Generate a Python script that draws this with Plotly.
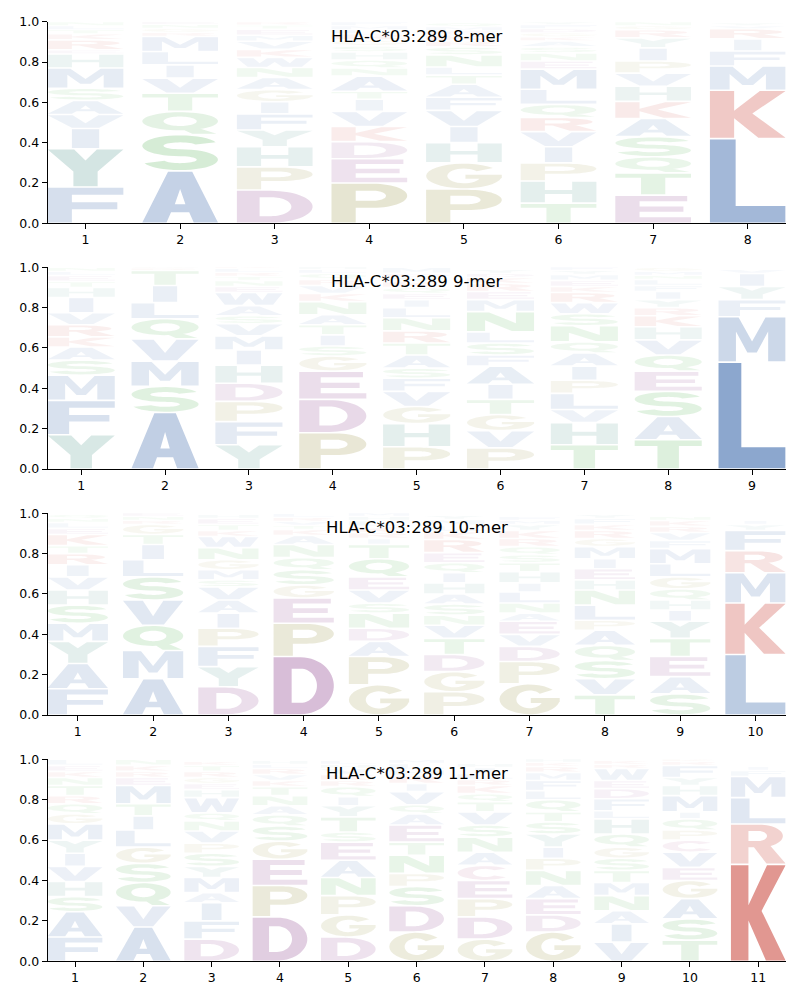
import numpy as np
import plotly.graph_objects as go

TITLE = "HLA-C*03:289"

# ---------------- data: letters (bottom -> top) and their heights per position
mer8_letters = ["FYIVASMHERKTLN", "ASQTVILMRGNE", "DPHYFIGANWKVMETR", "PEDKVITANQHSGRLMF",
                "PGHIVFATLNSRKEMQ", "THPIVRQLMENSAKGDFY", "ETQSAKHVPIYRGNL", "LKMFIRVY"]
mer8_heights = [[.18, .19, .10, .07, .07, .06, .10, .07, .02, .05, .03, .02, .02, .02],
                [.26, .18, .115, .09, .075, .066, .066, .075, .02, .02, .02, .013],
                [.165, .115, .10, .083, .08, .06, .06, .06, .05, .05, .04, .04, .03, .03, .02, .017],
                [.20, .12, .085, .075, .075, .06, .04, .075, .04, .04, .04, .03, .03, .03, .02, .02, .02],
                [.17, .13, .10, .08, .08, .065, .065, .045, .04, .06, .04, .03, .03, .02, .02, .02],
                [.10, .11, .09, .08, .075, .07, .065, .075, .10, .04, .04, .03, .03, .02, .02, .02, .02, .015],
                [.14, .11, .08, .10, .09, .085, .075, .065, .06, .065, .05, .04, .02, .02, .02],
                [.42, .24, .12, .075, .06, .05, .015, .015]]

mer9_letters = ["YFMSAKRVIHTELN", "ASMVQLITRG", "YFPDHIMVSAWENTRLK", "PDEGSITANKVRQLHM",
                "PHGVFSATRNLIEQKYDM", "PVGTIAFSLNMERKDY", "THVLPIAQNSWRKEMYF",
                "TASEQVHKRYIFLNMG", "LMFYIV"]
mer9_heights = [[.17, .17, .125, .075, .065, .05, .06, .06, .075, .05, .03, .03, .02, .02],
                [.28, .13, .125, .11, .10, .08, .085, .075, .01, .01],
                [.12, .115, .10, .09, .09, .075, .07, .06, .04, .05, .065, .03, .03, .02, .02, .02, .015],
                [.18, .165, .14, .075, .05, .055, .05, .05, .065, .04, .04, .03, .03, .02, .02, .02],
                [.11, .115, .085, .075, .065, .05, .065, .06, .06, .065, .05, .04, .03, .03, .03, .02, .02, .03],
                [.105, .085, .08, .075, .075, .09, .055, .06, .055, .10, .06, .04, .04, .03, .02, .02],
                [.12, .11, .065, .08, .065, .07, .065, .055, .08, .06, .055, .05, .03, .03, .03, .02, .02],
                [.145, .115, .125, .10, .08, .075, .065, .055, .04, .04, .04, .03, .03, .02, .02, .02],
                [.53, .225, .085, .065, .065, .02]]

mer10_letters = ["FAYMSHVIRTKELNQ", "AMQVSLITGRNE", "DYFPIAVSMGNWKTEH", "DPEGSQNAKTVRLH",
                 "GPADNSVEQTIRKLHM", "PGDTVNSAHIQERKLMY", "GPDVEANLIHTSQRKYMF",
                 "TVSQAPLNHEIMGRKFY", "SAETYIHQGLMFVRKN", "LKMRFYI"]
mer10_heights = [[.13, .125, .11, .09, .09, .075, .065, .06, .055, .04, .055, .03, .03, .02, .02],
                 [.18, .14, .125, .125, .115, .085, .075, .05, .05, .02, .02, .02],
                 [.14, .10, .10, .09, .075, .065, .065, .035, .05, .05, .06, .055, .03, .03, .03, .02],
                 [.29, .165, .125, .065, .075, .06, .065, .045, .03, .02, .02, .02, .02, .02],
                 [.15, .14, .075, .065, .075, .05, .065, .065, .09, .07, .03, .03, .03, .03, .02, .02],
                 [.115, .10, .085, .08, .065, .05, .055, .05, .055, .05, .05, .05, .065, .04, .03, .03, .02],
                 [.155, .11, .075, .06, .065, .04, .05, .055, .045, .055, .045, .04, .04, .04, .04, .03, .02, .02],
                 [.10, .08, .09, .075, .075, .05, .075, .075, .05, .055, .05, .06, .04, .04, .03, .03, .02],
                 [.105, .085, .10, .09, .085, .055, .05, .055, .06, .065, .075, .04, .04, .03, .03, .02],
                 [.30, .255, .15, .11, .10, .03, .02]]

mer11_letters = ["FASHVIYMGQRTNKEL", "AVQSGLITMERKN", "DFIAMYSPVNQWHEGRTK", "DPEGSQANTKVRLH",
                 "DGPNAESTYIQRKVHL", "GDSPNTEAQVIRHLM", "GDPECANSVTQKRLIH",
                 "GDEANPIYSTQLFMRKH", "VIANMTSGQHLFDEWRK", "TSAGEVCPQIMHYFRK", "KRLMFI"]
mer11_heights = [[.12, .125, .075, .075, .075, .065, .065, .08, .05, .05, .04, .05, .04, .03, .03, .03],
                 [.17, .105, .115, .095, .08, .085, .07, .06, .09, .04, .03, .03, .03],
                 [.11, .09, .09, .05, .075, .055, .065, .05, .06, .05, .04, .075, .04, .03, .03, .03, .03, .02],
                 [.22, .155, .13, .09, .075, .055, .045, .05, .045, .03, .03, .03, .02, .02],
                 [.12, .11, .095, .09, .085, .09, .05, .075, .055, .045, .05, .03, .03, .03, .02, .02],
                 [.145, .13, .095, .065, .09, .065, .085, .055, .045, .065, .04, .04, .03, .03, .02],
                 [.11, .11, .09, .09, .075, .065, .075, .06, .065, .05, .04, .04, .03, .03, .03, .02],
                 [.145, .085, .08, .065, .075, .06, .055, .065, .06, .05, .06, .045, .05, .04, .03, .02, .02],
                 [.095, .09, .065, .075, .065, .06, .06, .055, .065, .075, .04, .06, .05, .04, .06, .02, .02],
                 [.105, .105, .10, .09, .065, .075, .06, .05, .055, .035, .08, .05, .04, .06, .02, .01],
                 [.48, .20, .13, .105, .03, .02]]

panels = [(8, mer8_letters, mer8_heights), (9, mer9_letters, mer9_heights),
          (10, mer10_letters, mer10_heights), (11, mer11_letters, mer11_heights)]

# ---------------- colours per residue group
BLUE, TEAL, RED, PURPLE, OLIVE, GREEN, PINK = ((80, 120, 180), (80, 150, 140), (205, 80, 70),
                                              (150, 80, 150), (160, 155, 80), (80, 175, 80), (180, 90, 140))
BASE = {}
for aa in "ALMFVIW":
    BASE[aa] = BLUE
for aa in "YH":
    BASE[aa] = TEAL
for aa in "KR":
    BASE[aa] = RED
for aa in "DE":
    BASE[aa] = PURPLE
for aa in "PG":
    BASE[aa] = OLIVE
for aa in "STNQ":
    BASE[aa] = GREEN
BASE["C"] = PINK


# ---------------- glyph outlines in a unit box
def arc(cx, cy, rx, ry, a0, a1, n=30):
    t = np.radians(np.linspace(a0, a1, n))
    return [(cx + rx * np.cos(v), cy + ry * np.sin(v)) for v in t]


def ellipse(cx, cy, rx, ry, n=56):
    return arc(cx, cy, rx, ry, 0, 360, n)[:-1]


GLYPHS = {
    "A": [([(0, 0), (0.34, 1), (0.66, 1), (1, 0), (0.68, 0), (0.62, 0.2), (0.38, 0.2), (0.32, 0)], False),
          ([(0.43, 0.36), (0.57, 0.36), (0.5, 0.66)], True)],
    "C": [(arc(.5, .5, .5, .5, 40, 320) + arc(.5, .5, .22, .3, 320, 40), False)],
    "D": [([(0, 0), (0, 1), (0.45, 1)] + arc(0.45, 0.5, 0.55, 0.5, 90, -90) + [(0.45, 0)], False),
          ([(0.3, 0.2), (0.3, 0.8), (0.45, 0.8)] + arc(0.45, 0.5, 0.27, 0.3, 90, -90) + [(0.45, 0.2)], True)],
    "E": [([(0, 0), (0, 1), (0.95, 1), (0.95, 0.8), (0.32, 0.8), (0.32, 0.6), (0.9, 0.6), (0.9, 0.4),
            (0.32, 0.4), (0.32, 0.2), (1, 0.2), (1, 0)], False)],
    "F": [([(0, 0), (0, 1), (1, 1), (1, 0.8), (0.32, 0.8), (0.32, 0.58), (0.92, 0.58), (0.92, 0.38),
            (0.32, 0.38), (0.32, 0)], False)],
    "G": [(arc(.5, .5, .5, .5, 40, 350) + [(1.0, 0.41), (1.0, 0.55), (0.52, 0.55), (0.52, 0.38), (0.72, 0.38)]
           + arc(.5, .5, .22, .3, -20, -320), False)],
    "H": [([(0, 0), (0, 1), (0.32, 1), (0.32, 0.6), (0.68, 0.6), (0.68, 1), (1, 1), (1, 0), (0.68, 0),
            (0.68, 0.4), (0.32, 0.4), (0.32, 0)], False)],
    "I": [([(0.32, 0), (0.68, 0), (0.68, 1), (0.32, 1)], False)],
    "K": [([(0, 0), (0, 1), (0.32, 1), (0.32, 0.58), (0.66, 1), (1, 1), (0.56, 0.52), (1, 0), (0.64, 0),
            (0.32, 0.42), (0.32, 0)], False)],
    "L": [([(0, 0), (0, 1), (0.34, 1), (0.34, 0.2), (1, 0.2), (1, 0)], False)],
    "M": [([(0, 0), (0, 1), (0.3, 1), (0.5, 0.45), (0.7, 1), (1, 1), (1, 0), (0.74, 0), (0.74, 0.68),
            (0.57, 0.2), (0.43, 0.2), (0.26, 0.68), (0.26, 0)], False)],
    "N": [([(0, 0), (0, 1), (0.33, 1), (0.73, 0.42), (0.73, 1), (1, 1), (1, 0), (0.67, 0), (0.27, 0.58),
            (0.27, 0)], False)],
    "P": [([(0, 0), (0, 1), (0.55, 1)] + arc(0.55, 0.69, 0.45, 0.31, 90, -90) + [(0.32, 0.38), (0.32, 0)], False),
          ([(0.32, 0.56), (0.32, 0.82), (0.55, 0.82)] + arc(0.55, 0.69, 0.17, 0.13, 90, -90), True)],
    "Q": [(ellipse(0.5, 0.58, 0.5, 0.42), False), (ellipse(0.5, 0.58, 0.22, 0.22), True),
          ([(0.52, 0.22), (0.78, 0.22), (0.98, 0.0), (0.66, 0.0)], False)],
    "R": [([(0, 0), (0, 1), (0.52, 1)] + arc(0.52, 0.71, 0.43, 0.29, 90, -90) + [(0.32, 0.42), (0.32, 0)], False),
          ([(0.32, 0.58), (0.32, 0.84), (0.5, 0.84)] + arc(0.5, 0.71, 0.16, 0.13, 90, -90), True),
          ([(0.4, 0.46), (0.72, 0.46), (1.0, 0), (0.65, 0)], False)],
    "S": [(arc(0.5, 0.7, 0.22, 0.1, 20, 270) + arc(0.5, 0.3, 0.5, 0.3, 90, -160)
           + arc(0.5, 0.3, 0.22, 0.1, -160, 90) + arc(0.5, 0.7, 0.5, 0.3, 270, 20), False)],
    "T": [([(0, 1), (1, 1), (1, 0.8), (0.66, 0.8), (0.66, 0), (0.34, 0), (0.34, 0.8), (0, 0.8)], False)],
    "V": [([(0, 1), (0.33, 1), (0.5, 0.35), (0.67, 1), (1, 1), (0.68, 0), (0.32, 0)], False)],
    "W": [([(0, 1), (0.22, 1), (0.3, 0.4), (0.4, 1), (0.6, 1), (0.7, 0.4), (0.78, 1), (1, 1), (0.86, 0),
            (0.6, 0), (0.5, 0.55), (0.4, 0), (0.14, 0)], False)],
    "Y": [([(0, 1), (0.35, 1), (0.5, 0.7), (0.65, 1), (1, 1), (0.66, 0.4), (0.66, 0), (0.34, 0),
            (0.34, 0.4)], False)],
}


def oriented(pts, hole):
    p = np.array(pts, dtype=float)
    area = 0.5 * np.sum(p[:, 0] * np.roll(p[:, 1], -1) - np.roll(p[:, 0], -1) * p[:, 1])
    if (area > 0) == hole:
        p = p[::-1]
    return p


def glyph_path(letter, x0, x1, y0, y1):
    parts = []
    for pts, hole in GLYPHS[letter]:
        p = oriented(pts, hole)
        xs = x0 + (x1 - x0) * p[:, 0]
        ys = y0 + (y1 - y0) * p[:, 1]
        seg = " L ".join(f"{a:.4f},{b:.4f}" for a, b in zip(xs, ys))
        parts.append("M " + seg + " Z")
    return " ".join(parts)


def rgba(letter, h):
    r, g, b = BASE[letter]
    a = min(0.9, 0.02 + 1.2 * h)
    return f"rgba({r},{g},{b},{a:.3f})"


# ---------------- figure
fig = go.Figure()
X_DOMAIN = [0.0596, 0.982]
Y_DOMAINS = [[0.7767, 0.9783], [0.531, 0.7327], [0.285, 0.4867], [0.0387, 0.2407]]
FONT = "DejaVu Sans"
shapes = []
annotations = []
HALF_W = 0.4

for k, (n, letters, heights) in enumerate(panels, start=1):
    xa = "x" if k == 1 else f"x{k}"
    ya = "y" if k == 1 else f"y{k}"
    fig.add_trace(go.Scatter(x=[None], y=[None], xaxis=xa, yaxis=ya, showlegend=False, hoverinfo="skip"))
    for pos, (col_letters, col_heights) in enumerate(zip(letters, heights), start=1):
        base = 0.0
        for letter, h in zip(col_letters, col_heights):
            pad = min(0.004, 0.15 * h)
            shapes.append(dict(type="path", xref=xa, yref=ya,
                               path=glyph_path(letter, pos - HALF_W, pos + HALF_W, base + pad, base + h - pad),
                               fillcolor=rgba(letter, h), line=dict(width=0), fillrule="nonzero",
                               layer="above"))
            base += h
    axis_common = dict(showgrid=False, zeroline=False, showline=True, linecolor="black", linewidth=1,
                       ticks="outside", ticklen=5, tickwidth=1, tickcolor="black", automargin=False,
                       tickfont=dict(family=FONT, size=12.5, color="black"))
    fig.layout[f"xaxis{'' if k == 1 else k}"] = dict(domain=X_DOMAIN, anchor=ya, range=[0.6, n + 0.4],
                                                     tickvals=list(range(1, n + 1)), **axis_common)
    fig.layout[f"yaxis{'' if k == 1 else k}"] = dict(domain=Y_DOMAINS[k - 1], anchor=xa, range=[0, 1],
                                                     tickvals=[0, 0.2, 0.4, 0.6, 0.8, 1.0], tickformat=".1f",
                                                     **axis_common)
    annotations.append(dict(text=f"{TITLE} {n}-mer", xref=f"{xa} domain", yref=f"{ya} domain",
                            x=0.5, y=0.928, xanchor="center", yanchor="middle", showarrow=False,
                            font=dict(family=FONT, size=16.5, color="black")))

fig.update_layout(width=800, height=1000, margin=dict(l=0, r=0, t=0, b=0, pad=0, autoexpand=False),
                  paper_bgcolor="white", plot_bgcolor="white", shapes=shapes, annotations=annotations,
                  showlegend=False)
fig.write_html("out.html")
